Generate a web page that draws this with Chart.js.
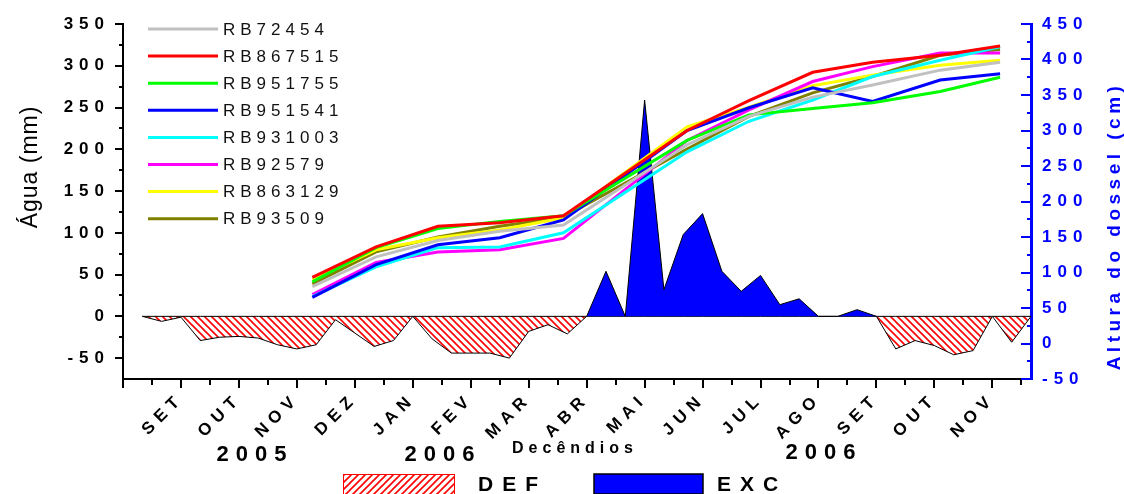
<!DOCTYPE html>
<html>
<head>
<meta charset="utf-8">
<script src="https://cdn.jsdelivr.net/npm/chart.js@4.4.1/dist/chart.umd.min.js"></script>
<style>
  html, body { margin: 0; padding: 0; background: #fff; }
</style>
</head>
<body>
<canvas id="chart" width="1124" height="494"></canvas>
<script>
// x axis is in decêndios, 0 = start of SET 2005, 3 decêndios per month
const monthLabels = ['SET', 'OUT', 'NOV', 'DEZ', 'JAN', 'FEV', 'MAR', 'ABR', 'MAI', 'JUN', 'JUL', 'AGO', 'SET', 'OUT', 'NOV'];

// water balance (mm), one value per decêndio
const balanceX = [-2, -1, 0, 1, 2, 3, 4, 5, 6, 7, 8, 9, 10, 11, 12, 13, 14, 15, 16, 17, 18, 19, 20, 21,
                  22, 23, 24, 25, 26, 27, 28, 29, 30, 31, 32, 33, 34, 35, 36, 37, 38, 39, 40, 41, 42, 43, 44];
const defValues = [0, -6, -1, -29, -25, -24, -26, -34, -39, -34, -4, -20, -36, -29, 0, -27, -44, -44, -44, -50, -18, -10, -21, 0,
                   0, 0, 0, 0, 0, 0, 0, 0, 0, 0, 0, 0, 0, 0, 0, -39, -29, -35, -46, -41, 0, -31, 0];
const excValues = [0, 0, 0, 0, 0, 0, 0, 0, 0, 0, 0, 0, 0, 0, 0, 0, 0, 0, 0, 0, 0, 0, 0, 0,
                   54, 0, 259, 32, 98, 123, 54, 30, 49, 14, 21, 0, 0, 8, 0, 0, 0, 0, 0, 0, 0, 0, 0];

// canopy height (cm), measured roughly monthly
const heightX = [6.8, 10.1, 13.3, 16.5, 19.8, 26.2, 29.4, 32.7, 35.8, 39.3, 42.4];
const rb72454  = [80, 122, 145, 158, 167, 280, 320, 347, 364, 385, 396];
const rb867515 = [93, 136, 165, 170, 180, 300, 342, 382, 396, 406, 419];
const rb951755 = [87, 135, 162, 172, 180, 286, 322, 331, 339, 355, 375];
const rb951541 = [65, 111, 139, 149, 174, 300, 332, 360, 341, 371, 380];
const rb931003 = [66, 108, 135, 136, 156, 270, 313, 343, 376, 399, 418];
const rb92579  = [69, 114, 129, 132, 148, 286, 329, 369, 390, 409, 409];
const rb863129 = [90, 132, 149, 160, 177, 305, 333, 363, 378, 392, 399];
const rb93509  = [84, 129, 150, 165, 178, 274, 320, 353, 376, 406, 414];

const varieties = ['RB72454', 'RB867515', 'RB951755', 'RB951541', 'RB931003', 'RB92579', 'RB863129', 'RB93509'];
const heights = [rb72454, rb867515, rb951755, rb951541, rb931003, rb92579, rb863129, rb93509];
const lineColors = ['#c0c0c0', '#ff0000', '#00ff00', '#0000ff', '#00ffff', '#ff00ff', '#ffff00', '#808000'];

const FONT = '"Liberation Sans", Arial, sans-serif';

// red diagonal hatch, dir 1 = "\\\\", dir -1 = "////"
function makeHatch(dir) {
    const s = 7;
    const c = document.createElement('canvas');
    c.width = s; c.height = s;
    const g = c.getContext('2d');
    g.fillStyle = '#fff';
    g.fillRect(0, 0, s, s);
    g.strokeStyle = '#ff0000';
    g.lineWidth = 1.6;
    g.beginPath();
    if (dir > 0) {
        g.moveTo(-1, -1); g.lineTo(s + 1, s + 1);
        g.moveTo(s - 1, -1); g.lineTo(s + 1, 1);
        g.moveTo(-1, s - 1); g.lineTo(1, s + 1);
    } else {
        g.moveTo(-1, s + 1); g.lineTo(s + 1, -1);
        g.moveTo(-1, 1); g.lineTo(1, -1);
        g.moveTo(s - 1, s + 1); g.lineTo(s + 1, s - 1);
    }
    g.stroke();
    return document.getElementById('chart').getContext('2d').createPattern(c, 'repeat');
}
const hatchArea = makeHatch(1);
const hatchLegend = makeHatch(-1);

const lineDatasets = varieties.map((name, i) => ({
    label: name,
    data: heightX.map((x, j) => ({ x: x, y: heights[i][j] })),
    yAxisID: 'y1',
    borderColor: lineColors[i],
    borderWidth: 3,
    pointRadius: 0,
    fill: false,
    tension: 0
}));

const defDataset = {
    label: 'DEF',
    data: balanceX.map((x, j) => ({ x: x, y: defValues[j] })),
    yAxisID: 'y',
    fill: 'origin',
    backgroundColor: hatchArea,
    borderColor: '#000',
    borderWidth: 1,
    pointRadius: 0,
    tension: 0
};
const excDataset = {
    label: 'EXC',
    data: balanceX.map((x, j) => ({ x: x, y: excValues[j] })),
    yAxisID: 'y',
    fill: 'origin',
    backgroundColor: '#0000ff',
    borderColor: '#000',
    borderWidth: 1,
    pointRadius: 0,
    tension: 0
};

function spacedText(ctx, text, x, y, font, color, spacing, align) {
    ctx.font = font;
    ctx.fillStyle = color;
    ctx.letterSpacing = spacing + 'px';
    ctx.textAlign = align || 'left';
    ctx.textBaseline = 'middle';
    ctx.fillText(text, x, y);
}

const decorPlugin = {
    id: 'decor',
    beforeDraw(chart) {
        chart.ctx.letterSpacing = '6px';
    },
    afterDraw(chart) {
        const ctx = chart.ctx;
        const area = chart.chartArea;
        const sx = chart.scales.x, sy = chart.scales.y, sy1 = chart.scales.y1;
        ctx.save();

        // tick marks
        ctx.lineWidth = 2;
        ctx.strokeStyle = '#000';
        ctx.beginPath();
        for (let v = -50; v <= 350; v += 25) {
            const py = Math.round(sy.getPixelForValue(v));
            const len = v % 50 === 0 ? 8 : 4;
            ctx.moveTo(area.left - len, py);
            ctx.lineTo(area.left, py);
        }
        for (let v = -3; v <= 43.5; v += 1.5) {
            const px = Math.round(sx.getPixelForValue(v));
            const len = v % 3 === 0 ? 9 : 6;
            ctx.moveTo(px, area.bottom);
            ctx.lineTo(px, area.bottom + len);
        }
        ctx.stroke();
        ctx.strokeStyle = '#0000ff';
        ctx.beginPath();
        for (let v = -50; v <= 450; v += 25) {
            const py = Math.round(sy1.getPixelForValue(v));
            const len = v % 50 === 0 ? 10 : 4;
            ctx.moveTo(area.right - len, py);
            ctx.lineTo(area.right, py);
        }
        ctx.stroke();

        // legend of the height lines
        varieties.forEach((name, i) => {
            const y = 29 + i * 27.1;
            ctx.strokeStyle = lineColors[i];
            ctx.lineWidth = 3;
            ctx.beginPath();
            ctx.moveTo(148, y);
            ctx.lineTo(218, y);
            ctx.stroke();
            spacedText(ctx, name, 223, y + 1, '17px ' + FONT, '#111', 5);
        });

        // x titles
        spacedText(ctx, 'Decêndios', 575, 449, 'bold 16px ' + FONT, '#000', 5, 'center');
        spacedText(ctx, '2005', 255, 455, 'bold 22px ' + FONT, '#000', 7, 'center');
        spacedText(ctx, '2006', 443, 455, 'bold 22px ' + FONT, '#000', 7, 'center');
        spacedText(ctx, '2006', 824, 453, 'bold 22px ' + FONT, '#000', 7, 'center');

        // DEF / EXC legend
        ctx.fillStyle = hatchLegend;
        ctx.fillRect(343, 474, 111, 20);
        ctx.strokeStyle = '#ff0000';
        ctx.lineWidth = 1;
        ctx.strokeRect(343.5, 474.5, 111, 20);
        spacedText(ctx, 'DEF', 478, 485, 'bold 21px ' + FONT, '#000', 9);
        ctx.fillStyle = '#0000ff';
        ctx.fillRect(594, 474, 109, 20);
        ctx.strokeStyle = '#000';
        ctx.lineWidth = 1.5;
        ctx.strokeRect(594, 474, 109, 20);
        spacedText(ctx, 'EXC', 717, 485, 'bold 21px ' + FONT, '#000', 9);

        // axis titles
        ctx.save();
        ctx.translate(31, 167);
        ctx.rotate(-Math.PI / 2);
        spacedText(ctx, 'Água (mm)', 0, 0, '23px ' + FONT, '#000', 1, 'center');
        ctx.restore();
        ctx.save();
        ctx.translate(1115, 226);
        ctx.rotate(-Math.PI / 2);
        spacedText(ctx, 'Altura do dossel (cm)', 0, 0, 'bold 19px ' + FONT, '#0000ff', 4.5, 'center');
        ctx.restore();

        ctx.restore();
        ctx.letterSpacing = '0px';
    }
};

new Chart(document.getElementById('chart'), {
    type: 'line',
    data: { datasets: [...lineDatasets, excDataset, defDataset] },
    options: {
        responsive: false,
        animation: false,
        layout: { padding: { top: 24, left: 0, right: 0, bottom: 0 } },
        plugins: {
            legend: { display: false },
            tooltip: { enabled: false }
        },
        scales: {
            x: {
                type: 'linear',
                min: -3,
                max: 44,
                afterFit: s => { s.height = 115; },
                grid: { display: false, drawTicks: false },
                border: { display: true, color: '#000', width: 2 },
                ticks: {
                    stepSize: 1.5,
                    includeBounds: false,
                    autoSkip: false,
                    minRotation: 45,
                    maxRotation: 45,
                    padding: 10,
                    color: '#000',
                    font: { family: FONT, size: 17, weight: 'bold' },
                    callback: v => {
                        const m = v / 3;
                        return Number.isInteger(m) && m >= 0 && m < monthLabels.length ? monthLabels[m] : '';
                    }
                }
            },
            y: {
                position: 'left',
                min: -75,
                max: 350,
                afterFit: s => { s.width = 123; },
                grid: { display: false, drawTicks: false },
                border: { display: true, color: '#000', width: 2 },
                ticks: {
                    stepSize: 50,
                    includeBounds: false,
                    padding: 13,
                    color: '#000',
                    font: { family: FONT, size: 17, weight: 'bold' },
                    callback: v => (v % 50 === 0 ? v : '')
                }
            },
            y1: {
                position: 'right',
                min: -50,
                max: 450,
                afterFit: s => { s.width = 93; },
                grid: { display: false, drawTicks: false },
                border: { display: true, color: '#0000ff', width: 3 },
                ticks: {
                    stepSize: 50,
                    includeBounds: false,
                    padding: 11,
                    color: '#0000ff',
                    font: { family: FONT, size: 17, weight: 'bold' }
                }
            }
        }
    },
    plugins: [decorPlugin]
});
</script>
</body>
</html>
